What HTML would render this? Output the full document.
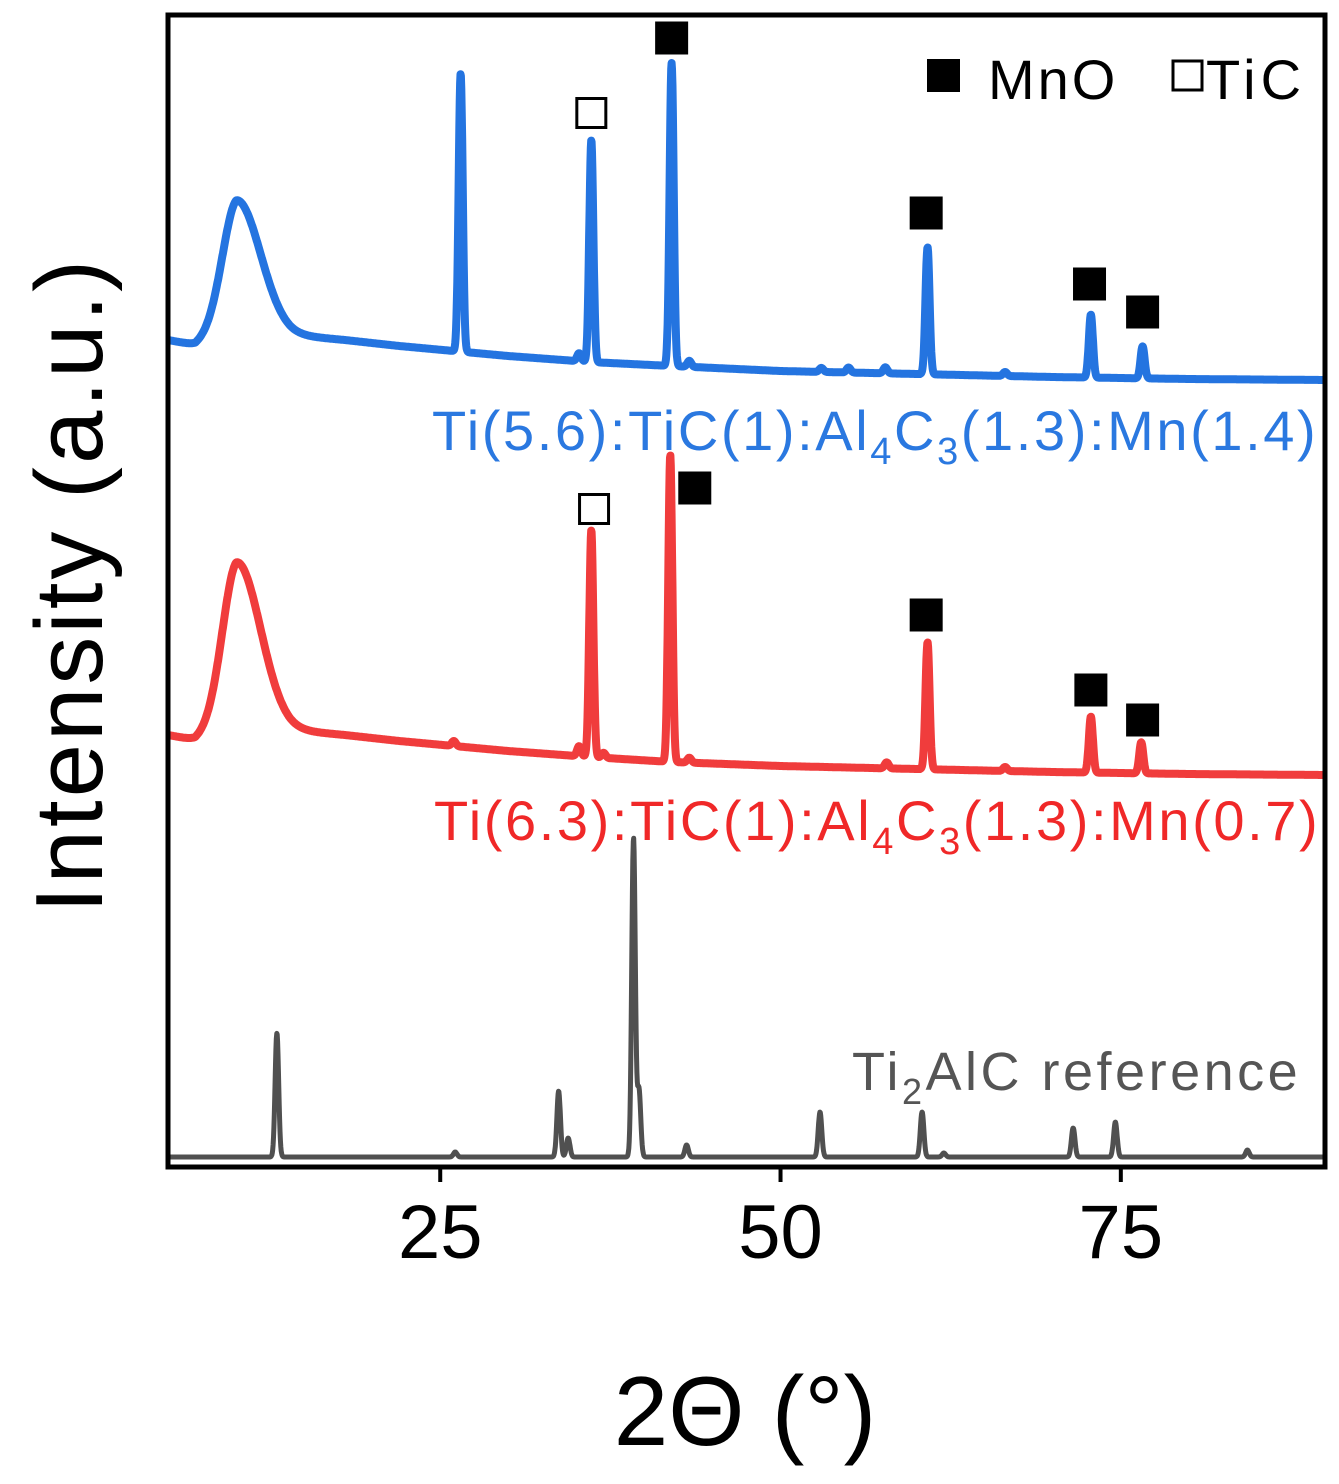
<!DOCTYPE html>
<html><head><meta charset="utf-8"><style>
html,body{margin:0;padding:0;background:#fff;}
svg{display:block;font-family:"Liberation Sans",Arial,sans-serif;}
</style></head><body>
<svg id="chart" width="1339" height="1484" viewBox="0 0 1339 1484" xmlns="http://www.w3.org/2000/svg">
<g id="series"></g>
<rect x="168" y="15" width="1157" height="1152" fill="none" stroke="#000" stroke-width="5"/>
<g id="ticks"></g>
<text x="745" y="1445" font-size="98" text-anchor="middle">2Θ (°)</text>
<text transform="translate(102,585) rotate(-90)" font-size="96" letter-spacing="3" text-anchor="middle">Intensity (a.u.)</text>
<g>
<rect x="927" y="59" width="33" height="33" fill="#000"/>
<text x="988" y="99" font-size="56" letter-spacing="3">MnO</text>
<rect x="1173" y="61" width="29" height="29" fill="#fff" stroke="#000" stroke-width="3"/>
<text x="1206" y="99" font-size="56" letter-spacing="5">TiC</text>
</g>
<text x="432" y="450" font-size="56" letter-spacing="2.6" fill="#2a78e0">Ti(5.6):TiC(1):Al<tspan font-size="38" dy="14">4</tspan><tspan dy="-14">C</tspan><tspan font-size="38" dy="14">3</tspan><tspan dy="-14">(1.3):Mn(1.4)</tspan></text>
<text x="434" y="840" font-size="56" letter-spacing="2.6" fill="#f02828">Ti(6.3):TiC(1):Al<tspan font-size="38" dy="14">4</tspan><tspan dy="-14">C</tspan><tspan font-size="38" dy="14">3</tspan><tspan dy="-14">(1.3):Mn(0.7)</tspan></text>
<text x="852" y="1090" font-size="54" letter-spacing="3.5" fill="#555">Ti<tspan font-size="36" dy="14">2</tspan><tspan dy="-14">AlC reference</tspan></text>
<g id="markers"></g>
</svg>
<script>
// ---- data ----
const xTicks = [25, 50, 75];
const bgX = [5, 7, 10, 14, 18, 22, 26, 30, 36, 42, 50, 60, 70, 80, 90];
const blueBg = [40, 35, 55, 45, 40, 34, 29, 24, 18, 14, 9, 6, 3, 1, 0];
const redBg = [40, 35, 55, 45, 40, 34, 29, 24, 18, 13, 9, 6, 3, 1, 0];
const blueOffset = 780, redOffset = 385, grayOffset = 3;
const blueHump = 125, redHump = 158;
const bluePeakPos = [26.5, 35.2, 36.1, 42.0, 43.3, 53.0, 55.0, 57.7, 60.8, 66.5, 72.8, 76.6];
const bluePeakH = [278, 8, 222, 303, 6, 4, 5, 6, 127, 4, 63, 32];
const redPeakPos = [26.0, 35.2, 36.1, 37.0, 41.9, 43.3, 57.8, 60.8, 66.5, 72.8, 76.5];
const redPeakH = [5, 10, 227, 5, 307, 5, 6, 127, 4, 56, 31];
const grayPeakPos = [13.0, 26.1, 33.7, 34.4, 39.2, 39.6, 43.1, 52.9, 60.4, 62.0, 71.5, 74.6, 84.3];
const grayPeakH = [124, 5, 66, 19, 319, 67, 12, 45, 45, 4, 29, 35, 7];
const mnoMarkersBlue = [[42.0, 1122], [60.7, 947], [72.7, 876], [76.6, 848]];
const ticMarkersBlue = [[36.1, 1047]];
const mnoMarkersRed = [[43.7, 672], [60.7, 545], [72.8, 470], [76.6, 440]];
const ticMarkersRed = [[36.3, 651]];
// ---- scales ----
const X0 = 168, X1 = 1325, D0 = 5, D1 = 90;
const xs = d => X0 + (d - D0) * (X1 - X0) / (D1 - D0);
const ys = v => 1160 - v;
const NS = 'http://www.w3.org/2000/svg';
function interp(xa, ya, x) {
  for (let i = 0; i < xa.length - 1; i++) if (x <= xa[i + 1]) { const t = (x - xa[i]) / (xa[i + 1] - xa[i]); return ya[i] + t * (ya[i + 1] - ya[i]); }
  return ya[ya.length - 1];
}
function curve(off, bg, hump, pos, h, sig) {
  const pts = [];
  for (let d = 5.1; d <= 89.95; d += 0.03) {
    let v = off + (bg ? interp(bgX, bg, d) : 0);
    if (hump) { const s = d < 10.1 ? 1.1 : 1.7; v += hump * Math.exp(-((d - 10.1) ** 2) / (2 * s * s)); }
    for (let i = 0; i < pos.length; i++) v += h[i] * Math.exp(-((d - pos[i]) ** 2) / (2 * sig * sig));
    pts.push(xs(d).toFixed(1) + ',' + ys(v).toFixed(1));
  }
  return pts.join(' ');
}
const g = document.getElementById('series');
function addLine(name, pts, color, w) {
  const p = document.createElementNS(NS, 'polyline');
  
  
  p.setAttribute('points', pts); p.setAttribute('fill', 'none'); p.setAttribute('stroke', color);
  p.setAttribute('stroke-width', w); p.setAttribute('stroke-linejoin', 'round');
  g.appendChild(p);
}
addLine('gray-reference-line', curve(grayOffset, null, 0, grayPeakPos, grayPeakH, 0.13), '#505050', 5);
addLine('red-series-line', curve(redOffset, redBg, redHump, redPeakPos, redPeakH, 0.15), '#f03c3c', 8);
addLine('blue-series-line', curve(blueOffset, blueBg, blueHump, bluePeakPos, bluePeakH, 0.15), '#2474e0', 8);
const tg = document.getElementById('ticks');
xTicks.forEach(t => {
  const l = document.createElementNS(NS, 'line');
  
  
  l.setAttribute('x1', xs(t)); l.setAttribute('x2', xs(t)); l.setAttribute('y1', 1167); l.setAttribute('y2', 1182);
  l.setAttribute('stroke', '#000'); l.setAttribute('stroke-width', 4); tg.appendChild(l);
  const tx = document.createElementNS(NS, 'text');
  
  
  tx.setAttribute('x', xs(t)); tx.setAttribute('y', 1258); tx.setAttribute('font-size', 76); tx.setAttribute('text-anchor', 'middle');
  tx.textContent = t; tg.appendChild(tx);
});
const mg = document.getElementById('markers');
function sq(list, filled) {
  list.forEach(m => {
    const r = document.createElementNS(NS, 'rect');
    
    
    const s = filled ? 33 : 29;
    r.setAttribute('x', xs(m[0]) - s / 2); r.setAttribute('y', ys(m[1]) - s / 2);
    r.setAttribute('width', s); r.setAttribute('height', s);
    r.setAttribute('fill', filled ? '#000' : '#fff');
    if (!filled) { r.setAttribute('stroke', '#000'); r.setAttribute('stroke-width', 3); }
    mg.appendChild(r);
  });
}
sq(mnoMarkersBlue, true); sq(mnoMarkersRed, true); sq(ticMarkersBlue, false); sq(ticMarkersRed, false);
</script>
</body></html>
